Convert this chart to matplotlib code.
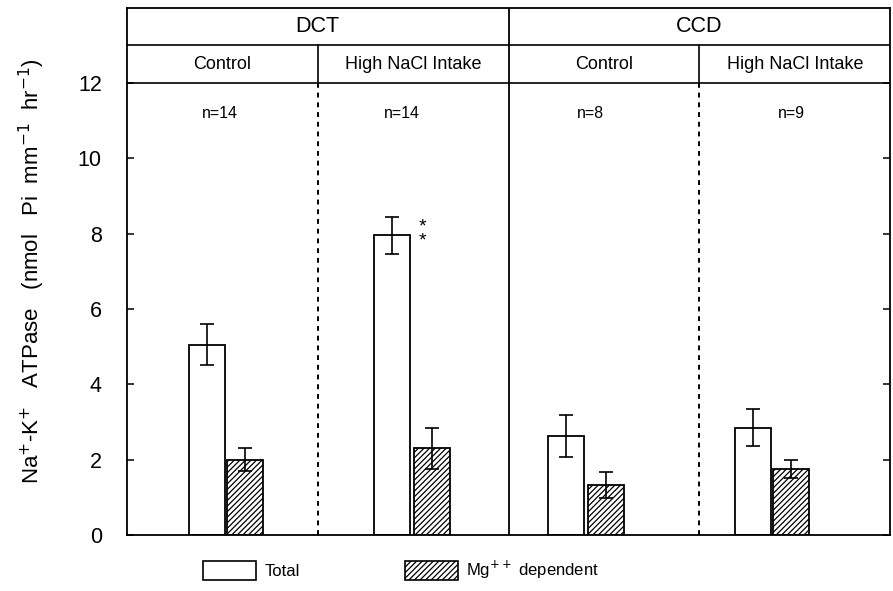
import matplotlib.pyplot as plt
from matplotlib.patches import Patch

plt.rcParams['font.family'] = ['Liberation Sans', 'DejaVu Sans']
plt.rcParams['hatch.linewidth'] = 0.9

# Na-K ATPase activity, DCT and CCD, control vs high NaCl intake
segments = ['DCT', 'CCD']
groups = ['Control', 'High NaCl Intake', 'Control', 'High NaCl Intake']
n_labels = ['n=14', 'n=14', 'n=8', 'n=9']
total = [5.05, 7.95, 2.62, 2.85]
total_err = [0.55, 0.5, 0.55, 0.48]
mg_dep = [2.0, 2.3, 1.32, 1.75]
mg_err = [0.3, 0.55, 0.35, 0.25]

# bar layout inside each of the four panels
total_x = [0.42, 1.39, 2.30, 3.28]
mg_x = [0.62, 1.60, 2.51, 3.48]
n_x = [0.49, 1.44, 2.43, 3.48]
bar_w = 0.19

fig = plt.figure(figsize=(8.93, 5.91), dpi=100)
ax = fig.add_axes([0.142, 0.095, 0.855, 0.892])
ax.set_xlim(0, 4)
ax.set_ylim(0, 14)

ax.bar(total_x, total, bar_w, color='white', edgecolor='black', linewidth=1.3, zorder=2)
ax.bar(mg_x, mg_dep, bar_w, color='white', edgecolor='black', hatch='//////',
       linewidth=1.3, zorder=2)
ax.errorbar(total_x, total, yerr=total_err, fmt='none', ecolor='black',
            elinewidth=1.2, capsize=5, capthick=1.2, zorder=3)
ax.errorbar(mg_x, mg_dep, yerr=mg_err, fmt='none', ecolor='black',
            elinewidth=1.2, capsize=5, capthick=1.2, zorder=3)

# significance marks next to the high NaCl DCT bar
ax.text(total_x[1] + 0.16, total[1] + 0.05, '*\n*', ha='center', va='center',
        fontsize=14, linespacing=0.75)

# header rows and panel separators
ax.axhline(12, color='black', lw=1.2)
ax.axhline(13, color='black', lw=1.2)
ax.axvline(2, color='black', lw=1.3)
for xs in (1, 3):
    ax.plot([xs, xs], [12, 13], color='black', lw=1.2)
    ax.plot([xs, xs], [0, 12], color='black', lw=1.4, ls=(0, (2.5, 2.5)))

for i, seg in enumerate(segments):
    ax.text(2 * i + 1, 13.5, seg, ha='center', va='center', fontsize=15.5)
for i, g in enumerate(groups):
    ax.text(i + 0.5, 12.5, g, ha='center', va='center', fontsize=13)
for xn, lab in zip(n_x, n_labels):
    ax.text(xn, 11.2, lab, ha='center', va='center', fontsize=11.5)

for sp in ax.spines.values():
    sp.set_linewidth(1.3)

ax.set_xticks([])
ax.set_yticks([0, 2, 4, 6, 8, 10, 12])
ax.tick_params(axis='y', direction='in', length=5, width=1.1, labelsize=15.5,
               right=True, pad=18)
ax.set_ylabel('Na$^{+}$-K$^{+}$   ATPase   (nmol   Pi  mm$^{-1}$  hr$^{-1}$)',
              fontsize=16, labelpad=22)

handles = [Patch(facecolor='white', edgecolor='black', linewidth=1.2),
           Patch(facecolor='white', edgecolor='black', hatch='//////', linewidth=1.2)]
fig.legend(handles, ['Total', 'Mg$^{++}$ dependent'], loc='center left',
           bbox_to_anchor=(0.21, 0.035), ncol=2, frameon=False, fontsize=12,
           handlelength=3.2, handleheight=1.3, columnspacing=6.3, handletextpad=0.5)

fig.savefig('out.png', dpi=100)
